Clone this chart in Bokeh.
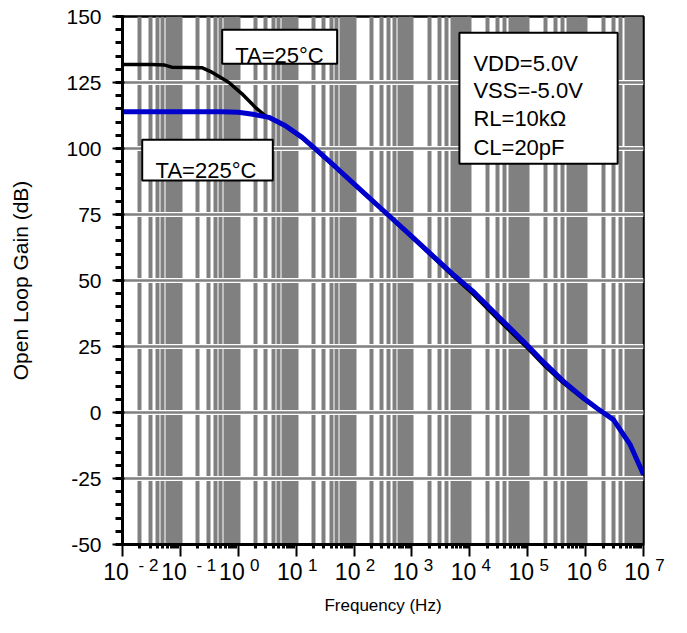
from bokeh.plotting import figure
from bokeh.models import (FixedTicker, Grid, Label, BoxAnnotation, ColumnDataSource, LogAxis)
from bokeh.embed import file_html
from bokeh.resources import INLINE

# ---- data ----
decades = [-2, -1, 0, 1, 2, 3, 4, 5, 6, 7]
y_major = [-50, -25, 0, 25, 50, 75, 100, 125, 150]
y_minor = list(range(-50, 151, 5))

# log10(frequency in Hz) and open-loop gain (dB)
logf_25 = [-2.0, -1.5, -1.27, -1.15, -0.63, -0.457, -0.167, 0.064, 0.294, 0.468, 0.641,
           0.815, 1.104, 1.394, 1.681, 1.971, 2.5, 3.0, 3.705, 4.05, 4.5, 5.0, 5.3,
           5.613, 5.96, 6.19, 6.48, 6.77, 7.0]
gain_25 = [131.8, 131.8, 131.6, 130.8, 130.6, 128.9, 125.1, 120.7, 115.6, 112.4, 110.5,
           108.4, 104.0, 98.4, 92.8, 87.0, 76.4, 66.4, 51.8, 45.0, 35.0, 24.3, 17.5,
           11.2, 5.2, 1.6, -2.8, -12.3, -23.6]

logf_225 = [-2.0, -1.0, -0.3, 0.0, 0.25, 0.527, 0.815, 1.104, 1.394, 1.681, 1.971, 2.5,
            3.0, 3.705, 4.05, 4.5, 5.0, 5.3, 5.613, 5.96, 6.19, 6.48, 6.77, 7.0]
gain_225 = [113.9, 113.9, 113.9, 113.7, 113.0, 111.8, 108.6, 104.2, 98.6, 93.0, 87.2, 76.6,
            66.6, 52.4, 46.0, 36.2, 25.3, 18.5, 11.9, 5.5, 1.7, -2.7, -12.2, -23.5]

cond_lines = ["VDD=5.0V", "VSS=-5.0V", "RL=10k\u03a9", "CL=20pF"]

FONT = "Liberation Sans"
NBSP = "\u00a0"

x_major = [10.0 ** d for d in decades]
x_minor = [k * 10.0 ** d for d in decades[:-1] for k in range(2, 10)]

p = figure(width=680, height=630, x_axis_type="log",
           x_range=(1e-2, 1e7), y_range=(-50, 150),
           output_backend="svg", toolbar_location=None,
           min_border_left=122, min_border_right=37,
           min_border_top=16, min_border_bottom=86)

p.background_fill_color = "white"
p.border_fill_color = "white"
p.outline_line_color = "black"
p.outline_line_width = 2.5
p.outline_line_alpha = 1.0

# ---- vertical gray grid bars (major + minor log grid) ----
xt = FixedTicker(ticks=x_major, minor_ticks=x_minor)
p.xaxis.ticker = xt
p.xgrid.ticker = xt
p.xgrid.grid_line_color = "#808080"
p.xgrid.grid_line_width = 4
p.xgrid.minor_grid_line_color = "#808080"
p.xgrid.minor_grid_line_width = 4

# ---- horizontal grid: white halo + gray line ----
yg_ticker = FixedTicker(ticks=y_major[1:-1])
p.ygrid.ticker = yg_ticker
p.ygrid.grid_line_color = "white"
p.ygrid.grid_line_width = 5
p.add_layout(Grid(dimension=1, ticker=yg_ticker, grid_line_color="#808080",
                  grid_line_width=2.5))

# ---- y axis ----
ya = p.yaxis[0]
ya.ticker = FixedTicker(ticks=y_major, minor_ticks=y_minor)
ya.major_label_overrides = {v: str(v) for v in y_major}
ya.axis_line_color = "black"
ya.axis_line_width = 3
ya.major_tick_line_color = "black"
ya.minor_tick_line_color = "black"
ya.major_tick_out = 10
ya.major_tick_in = 2
ya.major_tick_line_width = 2
ya.minor_tick_out = 7
ya.minor_tick_in = 1
ya.minor_tick_line_width = 3
ya.major_label_text_font = FONT
ya.major_label_text_color = "black"
ya.major_label_text_font_size = "21px"
ya.major_label_standoff = 11
ya.axis_label = "Open Loop Gain (dB)"
ya.axis_label_text_font = FONT
ya.axis_label_text_font_style = "normal"
ya.axis_label_text_color = "black"
ya.axis_label_text_font_size = "21px"
ya.axis_label_standoff = 31

# ---- x axis (next to frame): ticks + superscript exponents ----
xa = p.xaxis[0]
xa.axis_line_color = "black"
xa.axis_line_width = 3
xa.major_tick_line_color = "black"
xa.minor_tick_line_color = "black"
xa.major_tick_out = 12
xa.major_tick_in = 0
xa.major_tick_line_width = 2
xa.minor_tick_out = 4
xa.minor_tick_in = 0
xa.minor_tick_line_width = 3
xa.major_label_overrides = {
    v: (NBSP * 11 + "- %d" % (-d)) if d < 0 else (NBSP * 7 + str(d))
    for d, v in zip(decades, x_major)}
xa.major_label_text_font = FONT
xa.major_label_text_font_size = "17px"
xa.major_label_text_color = "black"
xa.major_label_standoff = -1

# ---- second x axis (below): the "10" bases and the axis title ----
xb = LogAxis(ticker=xt, axis_line_color=None, major_tick_line_color=None,
             minor_tick_line_color=None, major_tick_out=0, major_tick_in=0,
             minor_tick_out=0, minor_tick_in=0)
xb.major_label_overrides = {v: "10" + NBSP * 2 for v in x_major}
xb.major_label_text_font = FONT
xb.major_label_text_font_size = "23px"
xb.major_label_text_color = "black"
xb.major_label_standoff = -19
xb.axis_label = "Frequency (Hz)"
xb.axis_label_text_font = FONT
xb.axis_label_text_font_style = "normal"
xb.axis_label_text_color = "black"
xb.axis_label_text_font_size = "17px"
xb.axis_label_standoff = 8
p.add_layout(xb, "below")

# ---- curves ----
src25 = ColumnDataSource(dict(f=[10.0 ** v for v in logf_25], g=gain_25))
src225 = ColumnDataSource(dict(f=[10.0 ** v for v in logf_225], g=gain_225))
p.line("f", "g", source=src25, line_color="black", line_width=3.5)
p.line("f", "g", source=src225, line_color="#0000cc", line_width=5)

# ---- annotation boxes ----
box_style = dict(fill_color="white", fill_alpha=1.0, line_color="black", line_width=2,
                 line_alpha=1.0)
p.add_layout(BoxAnnotation(left=0.527, right=51.0, top=144.96, bottom=132.08, **box_style))
p.add_layout(BoxAnnotation(left=0.0219, right=3.95, top=103.3, bottom=87.9, **box_style))
p.add_layout(BoxAnnotation(left=6607, right=3.58e6, top=143.8, bottom=94.2, **box_style))

p.add_layout(Label(x=5.15, y=135.2, text="TA=25\u00b0C", text_font=FONT,
                   text_font_size="22px", text_align="center",
                   text_baseline="alphabetic", text_color="black"))
p.add_layout(Label(x=0.2767, y=91.7, text="TA=225\u00b0C", text_font=FONT,
                   text_font_size="22px", text_align="center",
                   text_baseline="alphabetic", text_color="black"))
for txt, yb in zip(cond_lines, [132.2, 122.0, 111.4, 100.5]):
    p.add_layout(Label(x=11530, y=yb, text=txt, text_font=FONT, text_font_size="22px",
                       text_align="left", text_baseline="alphabetic",
                       text_color="black"))

open("out.html", "w").write(file_html(p, INLINE))
